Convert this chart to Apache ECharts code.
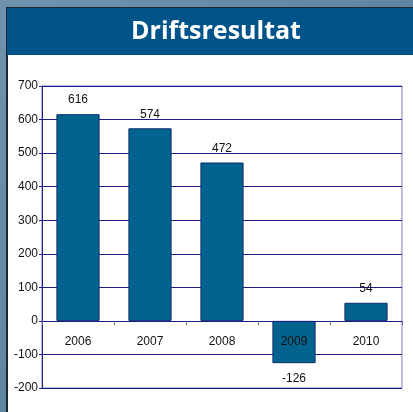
<!DOCTYPE html>
<html>
<head>
<meta charset="utf-8">
<script src="https://cdn.jsdelivr.net/npm/echarts@6/dist/echarts.min.js"></script>
<style>
  html, body { margin: 0; padding: 0; }
  #chart { width: 413px; height: 412px; }
</style>
</head>
<body>
<div id="chart"></div>
<script>
const years = ['2006', '2007', '2008', '2009', '2010']
const results = [616, 574, 472, -126, 54]
const yTicks = { min: -200, max: 700, step: 100 }

const navy = '#1c1c8a'
const labelFont = "'Liberation Sans Narrow', 'Liberation Sans', Arial, sans-serif"

const chart = echarts.init(document.getElementById('chart'))

chart.setOption({
  backgroundColor: new echarts.graphic.LinearGradient(0, 0, 1, 1, [
    { offset: 0, color: '#6f93ad' },
    { offset: 1, color: '#4f7897' }
  ]),
  animation: false,
  graphic: [
    // white panel with dark frame
    { type: 'rect', left: 6, top: 7, shape: { width: 420, height: 420 },
      style: { fill: '#ffffff', stroke: '#1b2733', lineWidth: 2 }, z: -10 },
    // header band
    { type: 'rect', left: 7, top: 8, shape: { width: 420, height: 47 },
      style: { fill: '#00548a' }, z: -9 }
  ],
  title: {
    text: 'Driftsresultat',
    left: 211,
    top: 14,
    textAlign: 'center',
    textStyle: { color: '#ffffff', fontSize: 25, fontWeight: 'bold', fontFamily: "'Open Sans', Lato, sans-serif" }
  },
  grid: { left: 42, top: 86, right: 11, bottom: 24, show: true, borderColor: '#7b7bbb', borderWidth: 1, backgroundColor: '#ffffff' },
  xAxis: {
    type: 'category',
    data: years,
    z: 5,
    // draw the category axis on the zero line (0 sits 67px above the -200 floor)
    offset: -67,
    axisLine: { onZero: false, lineStyle: { color: navy, width: 1 } },
    axisTick: { show: true, inside: false, length: 4, lineStyle: { color: '#6a6ab0' } },
    axisLabel: { color: '#111', fontSize: 12, fontFamily: labelFont, margin: 15 }
  },
  yAxis: {
    type: 'value',
    min: yTicks.min,
    max: yTicks.max,
    interval: yTicks.step,
    axisLine: { show: true, lineStyle: { color: navy } },
    axisTick: { show: true, length: 3, lineStyle: { color: navy } },
    axisLabel: { color: '#111', fontSize: 12, fontFamily: labelFont, margin: 4 },
    splitLine: { lineStyle: { color: navy, width: 1 } }
  },
  series: [{
    type: 'bar',
    barWidth: '60%',
    data: results.map(v => ({
      value: v,
      label: { position: v < 0 ? 'bottom' : 'top', distance: v < 0 ? 10 : 8 }
    })),
    itemStyle: { color: '#03638f', borderColor: '#0c2d6e', borderWidth: 1 },
    label: { show: true, color: '#111', fontSize: 12, fontFamily: labelFont }
  }]
})
</script>
</body>
</html>
